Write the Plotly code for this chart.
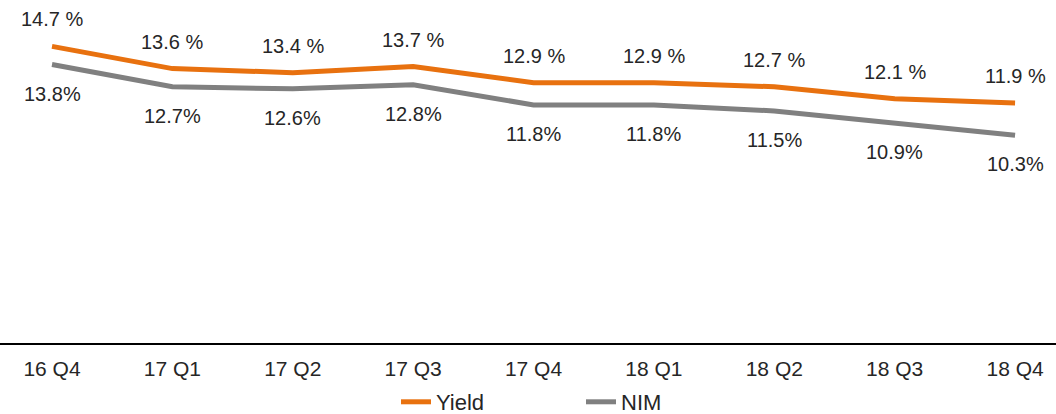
import plotly.graph_objects as go

quarters = ["16 Q4", "17 Q1", "17 Q2", "17 Q3", "17 Q4", "18 Q1", "18 Q2", "18 Q3", "18 Q4"]
yield_vals = [14.7, 13.6, 13.4, 13.7, 12.9, 12.9, 12.7, 12.1, 11.9]
nim_vals = [13.8, 12.7, 12.6, 12.8, 11.8, 11.8, 11.5, 10.9, 10.3]

ORANGE = "#E8710F"
GRAY = "#808080"
TEXT = "#262626"
FONT = "Liberation Sans, Arial, sans-serif"

fig = go.Figure()
fig.add_trace(go.Scatter(x=quarters, y=yield_vals, mode="lines", name="Yield",
                         line=dict(color=ORANGE, width=5)))
fig.add_trace(go.Scatter(x=quarters, y=nim_vals, mode="lines", name="NIM",
                         line=dict(color=GRAY, width=5)))

for q, v in zip(quarters, yield_vals):
    fig.add_annotation(x=q, y=v, text=f"{v:.1f} %", showarrow=False, yshift=27,
                       font=dict(size=20, color=TEXT, family=FONT))
for q, v in zip(quarters, nim_vals):
    fig.add_annotation(x=q, y=v, text=f"{v:.1f}%", showarrow=False, yshift=-29,
                       font=dict(size=20, color=TEXT, family=FONT))

fig.update_layout(
    width=1056, height=414,
    margin=dict(l=0, r=0, t=0, b=71, autoexpand=False),
    paper_bgcolor="white", plot_bgcolor="white",
    font=dict(family=FONT, color=TEXT, size=20),
    showlegend=True,
    legend=dict(orientation="h", x=0.375, xanchor="left", y=-0.172, yanchor="middle",
                font=dict(size=22, color=TEXT, family=FONT), entrywidth=140,
                bgcolor="rgba(0,0,0,0)"),
    xaxis=dict(type="category", range=[-0.432, 8.34], showgrid=False, zeroline=False,
               showline=True, linecolor="black", linewidth=2, ticks="",
               ticklabelstandoff=6, automargin=False,
               tickfont=dict(size=21, color=TEXT, family=FONT), fixedrange=True),
    yaxis=dict(range=[0, 17], visible=False, showgrid=False, zeroline=False),
)

fig.write_html("out.html")
